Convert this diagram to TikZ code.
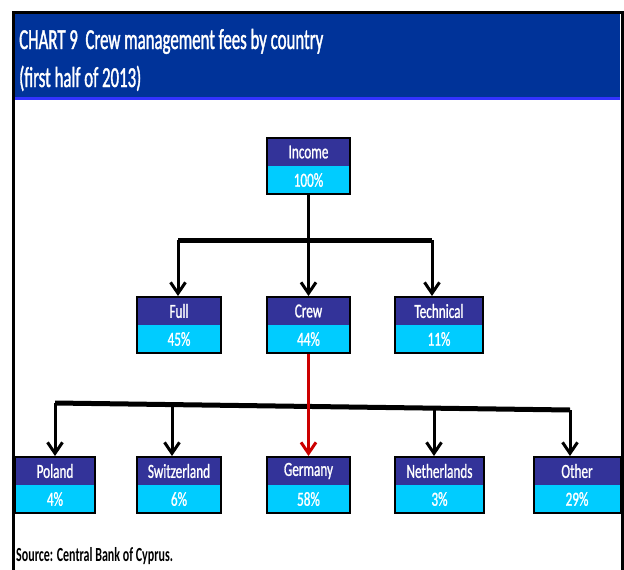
\documentclass[tikz,border=0pt]{standalone}
\usepackage{fontspec}
\setmainfont{Carlito}
\newfontfamily\titlefont{Carlito}[FakeStretch=0.58,FakeBold=1.2]
\newfontfamily\boxfont{Carlito}[FakeStretch=0.66,FakeBold=1]
\newfontfamily\srcfont{Carlito}[FakeStretch=0.6,BoldFont={Carlito Bold}]
\usetikzlibrary{arrows.meta,fit}
\definecolor{bandblue}{HTML}{003399}
\definecolor{stripblue}{HTML}{3333FF}
\definecolor{hdrblue}{HTML}{333399}
\definecolor{pctcyan}{HTML}{00CCFF}
\definecolor{redline}{HTML}{CC0000}
\tikzset{
  tophalf/.style={fill=hdrblue, text=white, minimum height=28pt, inner sep=0pt, outer sep=0pt, font=\boxfont\fontsize{20}{20}\selectfont},
  bothalf/.style={fill=pctcyan, text=white, minimum height=28pt, inner sep=0pt, outer sep=0pt, font=\boxfont\fontsize{20}{20}\selectfont},
  boxframe/.style={draw=black, line width=2pt, inner sep=0pt},
  barline/.style={line width=5pt, black},
  stemline/.style={line width=3pt, black},
  arr/.style={line width=3pt, black, -{Straight Barb[length=11pt,width=15pt]}},
  redarr/.style={line width=3pt, redline, -{Straight Barb[length=11pt,width=15pt]}},
}
\newcommand{\orgbox}[6]{%
  \node[tophalf, minimum width=#4pt, anchor=north] (#1t) at (#2,#3) {#5};
  \node[bothalf, minimum width=#4pt, anchor=north] (#1b) at (#1t.south) {#6};
  \node[boxframe, fit=(#1t)(#1b)] (#1) {};
}
\begin{document}
\begin{tikzpicture}[x=1pt,y=-1pt]
\useasboundingbox (0,0) rectangle (624,570);
\fill[white] (0,0) rectangle (624,570);
% title band
\fill[bandblue] (14,13) rectangle (620,100);
\fill[stripblue] (14,96.5) rectangle (620,100);
\node[anchor=base west, inner sep=0pt, text=white, font=\titlefont\fontsize{29}{29}\selectfont] (t1) at (19,49) {CHART 9\ \ Crew management fees by country};
\node[anchor=base west, inner sep=0pt, text=white, font=\titlefont\fontsize{29}{29}\selectfont] (t2) at (19,87) {(first half of 2013)};
% frame
\draw[line width=3pt] (13.5,570) -- (13.5,12) -- (622,12) -- (622,570);
% boxes
\orgbox{inc}{308.5}{138}{83}{Income}{100\%}
\orgbox{full}{179}{297}{84}{Full}{45\%}
\orgbox{crew}{308.5}{297}{83}{Crew}{44\%}
\orgbox{tech}{439}{297}{88}{Technical}{11\%}
\orgbox{pol}{55}{457}{80}{Poland}{4\%}
\orgbox{swi}{179}{457}{84}{Switzerland}{6\%}
\orgbox{ger}{308.5}{457}{83}{Germany}{58\%}
\orgbox{net}{439.5}{457}{89}{Netherlands}{3\%}
\orgbox{oth}{577}{457}{87}{Other}{29\%}
% upper connectors
\coordinate (j1) at (308.5,240);
\coordinate (tl) at (178,240);
\coordinate (tr) at (432,240);
\draw[stemline] (inc.south) -- (j1);
\draw[barline] (tl) -- (tr);
\draw[arr] (tl) -- (tl |- full.north);
\draw[arr] (j1) -- (crew.north);
\draw[arr] (tr) -- (tr |- tech.north);
% lower connectors
\coordinate (bl) at (55,403);
\coordinate (bs) at (172,404.6);
\coordinate (bn) at (434,408.1);
\coordinate (br) at (570,410);
\draw[barline] (bl) -- (br);
\draw[arr] (bl) -- (bl |- pol.north);
\draw[arr] (bs) -- (bs |- swi.north);
\draw[arr] (bn) -- (bn |- net.north);
\draw[arr] (br) -- (br |- oth.north);
\draw[redarr] (crew.south) -- (ger.north);
% source
\node[anchor=base west, inner sep=0pt, font=\srcfont\bfseries\fontsize{20}{20}\selectfont] (src) at (16,561) {Source: Central Bank of Cyprus.};
\end{tikzpicture}
\end{document}
